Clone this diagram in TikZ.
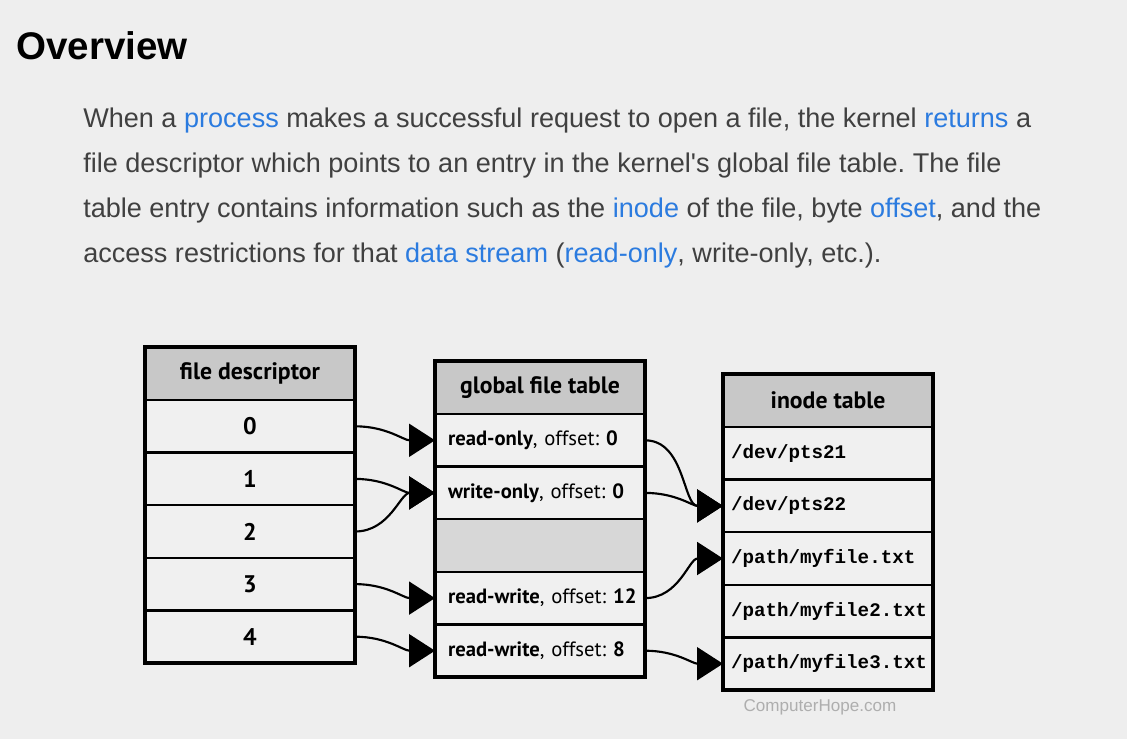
\documentclass[tikz,border=0pt]{standalone}
\usepackage{fontspec}
\setmainfont{Liberation Sans}[Ligatures=TeXOff]
\newfontfamily\dfont{PT Sans}
\newfontfamily\mfont{Liberation Mono}
\usetikzlibrary{arrows.meta}
\definecolor{bg}{HTML}{EEEEEE}
\definecolor{txt}{HTML}{404040}
\definecolor{lnk}{HTML}{2B7BDF}
\definecolor{hdr}{HTML}{C8C8C8}
\definecolor{emp}{HTML}{D7D7D7}
\definecolor{cellc}{HTML}{F0F0F0}
\definecolor{wm}{HTML}{AEAEAE}
\newcommand\lk[1]{\textcolor{lnk}{#1}}
\frenchspacing
\tikzset{
  bodyl/.style={anchor=base west, inner sep=0pt, text=txt, font=\frenchspacing\fontsize{20.3}{24}\selectfont},
  cellbox/.style={draw=black, line width=1.8pt, fill=cellc, minimum width=157.5pt,
    minimum height=39.45pt, inner sep=0pt, outer sep=0pt, anchor=north west,
    font=\frenchspacing\dfont\fontsize{15.5}{18}\selectfont},
  headbox/.style={cellbox, fill=hdr, minimum height=39.75pt, font=\dfont\bfseries\fontsize{17.8}{20}\selectfont},
  numcell/.style={cellbox, font=\dfont\bfseries\fontsize{18}{20}\selectfont},
  leftcell/.style={cellbox, text width=138pt, align=left, inner xsep=9.75pt},
  monocell/.style={cellbox, text width=145.5pt, align=left, inner xsep=6pt,
    font=\mfont\bfseries\fontsize{14.4}{16}\selectfont},
  emptycell/.style={cellbox, fill=emp},
  outer/.style={draw=black, line width=2.4pt},
  conn/.style={line width=1.6pt, -{Triangle[length=19.5pt,width=24.75pt]}}
}
\begin{document}
\begin{tikzpicture}[x=0.75pt,y=-0.75pt]
\fill[bg] (0,0) rectangle (1127,739);
\useasboundingbox (0,0) rectangle (1127,739);

\node[anchor=base west, inner sep=0pt, font=\bfseries\fontsize{28.9}{34}\selectfont] (title) at (16,59) {Overview};

\node[bodyl] (l1) at (83,127) {When a \lk{process} makes a successful request to open a file, the kernel \lk{returns} a};
\node[bodyl] (l2) at (83,172) {file descriptor which points to an entry in the kernel's global file table. The file};
\node[bodyl] (l3) at (83,217) {table entry contains information such as the \lk{inode} of the file, byte \lk{offset}, and the};
\node[bodyl] (l4) at (83,262) {access restrictions for that \lk{data stream} (\lk{read-only}, write-only, etc.).};

% file descriptor table
\node[headbox] (t1h) at (145,347) {file descriptor};
\foreach \i in {0,...,4}
  \node[numcell] (t1r\i) at (145,{400+52.6*\i}) {\i};
\draw[outer] (t1h.north west) rectangle (t1r4.south east);

% global file table
\node[headbox] (t2h) at (435,361) {global file table};
\node[leftcell] (t2r0) at (435,414) {\rlap{\textbf{read-only}, offset: \textbf{0}}};
\node[leftcell] (t2r1) at (435,466.6) {\rlap{\textbf{write-only}, offset: \textbf{0}}};
\node[emptycell] (t2r2) at (435,519.2) {};
\node[leftcell] (t2r3) at (435,571.8) {\rlap{\textbf{read-write}, offset: \textbf{12}}};
\node[leftcell] (t2r4) at (435,624.4) {\rlap{\textbf{read-write}, offset: \textbf{8}}};
\draw[outer] (t2h.north west) rectangle (t2r4.south east);

% inode table
\node[headbox] (t3h) at (723,374) {inode table};
\node[monocell] (t3r0) at (723,427) {/dev/pts21};
\node[monocell] (t3r1) at (723,479.6) {/dev/pts22};
\node[monocell] (t3r2) at (723,532.2) {/path/myfile.txt};
\node[monocell] (t3r3) at (723,584.8) {/path/myfile2.txt};
\node[monocell] (t3r4) at (723,637.4) {/path/myfile3.txt};
\draw[outer] (t3h.north west) rectangle (t3r4.south east);

% connectors
\draw[conn] (t1r0.east) to[out=0,in=180] (t2r0.west);
\draw[conn] (t1r1.east) to[out=0,in=180] (t2r1.west);
\draw[conn] (t1r2.east) to[out=0,in=180] (t2r1.west);
\draw[conn] (t1r3.east) to[out=0,in=180] (t2r3.west);
\draw[conn] (t1r4.east) to[out=0,in=180] (t2r4.west);

\draw[conn] (t2r0.east) to[out=0,in=180] (t3r1.west);
\draw[conn] (t2r1.east) to[out=0,in=180] (t3r1.west);
\draw[conn] (t2r3.east) to[out=0,in=180] (t3r2.west);
\draw[conn] (t2r4.east) to[out=0,in=180] (t3r4.west);

\node[text=wm, inner sep=0pt, anchor=base, font=\fontsize{12.8}{14}\selectfont] (wmk) at (820,711) {ComputerHope.com};
\end{tikzpicture}
\end{document}
